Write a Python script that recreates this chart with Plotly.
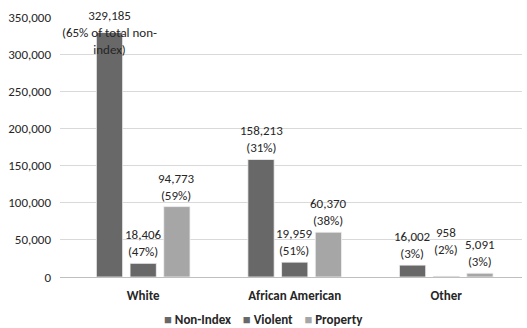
import plotly.graph_objects as go

categories = ["White", "African American", "Other"]
non_index = [329185, 158213, 16002]
violent = [18406, 19959, 958]
property_ = [94773, 60370, 5091]

non_index_pct = ["65% of total non-<br>index", "31%", "3%"]
violent_pct = ["47%", "51%", "2%"]
property_pct = ["59%", "38%", "3%"]

y_ticks = [0, 50000, 100000, 150000, 200000, 250000, 300000, 350000]

FONT = "Carlito, Lato, Liberation Sans, sans-serif"
DARK = "#686868"
LIGHT = "#a6a6a6"

series = [
    ("Non-Index", non_index, non_index_pct, DARK),
    ("Violent", violent, violent_pct, DARK),
    ("Property", property_, property_pct, LIGHT),
]

BARGAP = 0.333
GROUPGAP = 0.22
slot = (1 - BARGAP) / 3  # width of one bar slot in category units

fig = go.Figure()
for name, vals, pcts, color in series:
    fig.add_trace(go.Bar(
        name=name, x=categories, y=vals,
        marker=dict(color=color, line=dict(color="#f2f2f2", width=0.8)),
    ))

# value labels above each bar, positioned by the bar's own value
offsets = [-1, 0, 1]
for (name, vals, pcts, color), off in zip(series, offsets):
    for i, (cat, v, p) in enumerate(zip(categories, vals, pcts)):
        text = f"{v:,}<br>({p})"
        kw = dict(yanchor="bottom", yshift=2)
        if v == max(non_index):
            kw = dict(yanchor="middle", yshift=0)
        if name == "Violent" and cat == "Other":
            kw = dict(yanchor="bottom", yshift=17)
        fig.add_annotation(
            x=i + off * slot, y=v, xref="x", yref="y", text=text,
            showarrow=False, align="center",
            font=dict(family=FONT, size=13, color="#262626"),
            **kw,
        )

# legend row drawn as a single line of text with coloured swatches
gap = "\u00a0" * 4
legend_text = gap.join(
    f"<span style='color:{c}'>■</span>\u00a0<b>{n}</b>" for n, _, _, c in series
)
fig.add_annotation(
    x=0.44, y=-0.128, xref="paper", yref="paper", xanchor="center", yanchor="top",
    text=legend_text, showarrow=False,
    font=dict(family=FONT, size=13, color="#262626"),
)

fig.update_layout(
    width=527, height=328,
    margin=dict(l=60, r=5, t=17, b=51, autoexpand=False),
    paper_bgcolor="white", plot_bgcolor="white",
    barmode="group", bargap=BARGAP, bargroupgap=GROUPGAP,
    font=dict(family=FONT, size=13, color="#404040"),
    showlegend=False,
    xaxis=dict(type="category", showgrid=False, showline=False, ticks="",
               automargin=False, ticklabelstandoff=9,
               tickfont=dict(family=FONT, size=13, color="#262626", weight="bold")),
    yaxis=dict(range=[0, 350000], tickvals=y_ticks,
               ticktext=[f"{t:,}" for t in y_ticks],
               automargin=False,
               showgrid=True, gridcolor="#d9d9d9", gridwidth=1,
               zeroline=True, zerolinecolor="#bfbfbf", zerolinewidth=1,
               showline=False, ticks="", ticklabelstandoff=8,
               tickfont=dict(family=FONT, size=13, color="#262626")),
)

fig.write_html("out.html")
